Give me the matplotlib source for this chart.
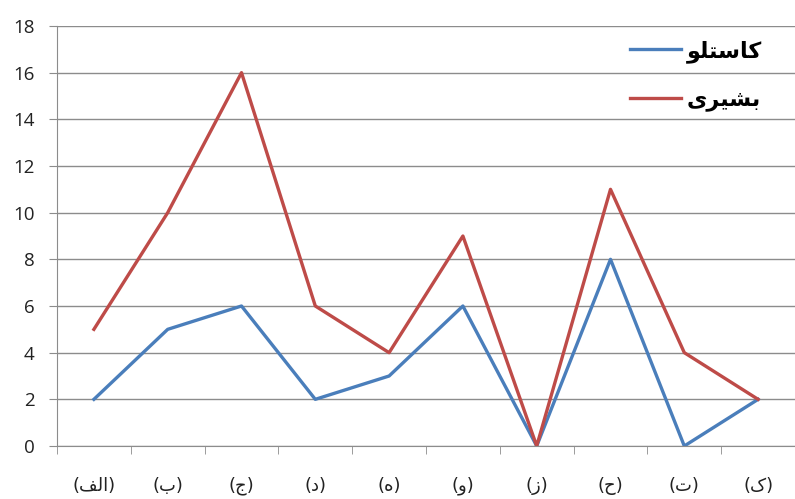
import matplotlib
matplotlib.use("Agg")
import matplotlib.pyplot as plt
import numpy as np

# Arabic/Persian text is written in presentation forms, visual order (no shaping lib)
categories = ["(\uFED2\uFEDF\uFE8D)", "(\uFE8F)", "(\uFE9D)", "(\uFEA9)", "(\uFEE9)",
              "(\uFEED)", "(\uFEAF)", "(\uFEA1)", "(\uFE95)", "(\uFB8E)"]
castello = [2, 5, 6, 2, 3, 6, 0, 8, 0, 2]
bashiri = [5, 10, 16, 6, 4, 9, 0, 11, 4, 2]
name_castello = "\uFEEE\uFEE0\uFE98\uFEB3\uFE8E\uFB90"
name_bashiri = "\uFBFC\uFEAE\uFBFF\uFEB8\uFE91"

blue = "#4A7EBB"
red = "#BE4B48"
grid_c = "#8C8C8C"

fig = plt.figure(figsize=(7.95, 4.99), dpi=100)
ax = fig.add_axes([57/795, 1 - 446/499, 1 - 57/795, 420/499])

x = np.arange(len(categories))
l1, = ax.plot(x, castello, color=blue, lw=2.4, label=name_castello)
l2, = ax.plot(x, bashiri, color=red, lw=2.4, label=name_bashiri)

ax.set_ylim(0, 18)
ax.set_yticks(range(0, 19, 2))
ax.set_xlim(-0.5, 9.37)
ax.yaxis.grid(True, color=grid_c, lw=1)
ax.set_axisbelow(True)

ax.set_xticks(x)
ax.set_xticklabels(categories, family=["DejaVu Sans"], fontsize=13, color="#222222")
ax.set_xticks(np.arange(-0.5, 9.6, 1), minor=True)
ax.tick_params(axis="x", which="major", length=0, pad=22)
ax.tick_params(axis="x", which="minor", length=6, color=grid_c, direction="out")
ax.tick_params(axis="y", length=6, color=grid_c, pad=10, labelsize=13.5)
for lab in ax.get_yticklabels():
    lab.set_family(["Open Sans"])
    lab.set_color("#222222")

for s in ["top", "right"]:
    ax.spines[s].set_visible(False)
ax.spines["left"].set_color(grid_c)
ax.spines["bottom"].set_color(grid_c)

leg = ax.legend(handles=[l1, l2], loc="upper left", bbox_to_anchor=(610/795, 1 - 20/499),
                bbox_transform=fig.transFigure, frameon=False, handlelength=2.3,
                handletextpad=0.25, labelspacing=1.2,
                prop={"family": "DejaVu Sans", "weight": "bold", "size": 16})

fig.savefig("out.png", dpi=100)
